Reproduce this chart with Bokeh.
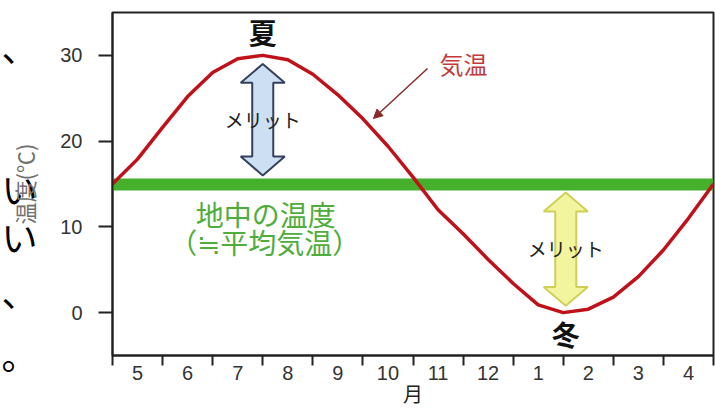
from bokeh.plotting import figure
from bokeh.models import Range1d, FixedTicker, Label, Arrow, NormalHead, LinearAxis
from bokeh.embed import file_html
from bokeh.resources import INLINE

# ---------------- data ----------------
months = ["5", "6", "7", "8", "9", "10", "11", "12", "1", "2", "3", "4"]
month_pos = [0, 1, 2, 3, 4, 5, 6, 7, 8, 9, 10, 11]
boundary_pos = [-0.5, 0.5, 1.5, 2.5, 3.5, 4.5, 5.5, 6.5, 7.5, 8.5, 9.5, 10.5, 11.5]

# air temperature read at half-month steps (x: month index, boundaries at k-0.5)
curve_x = [-0.5, 0.0, 0.5, 1.0, 1.5, 2.0, 2.5, 3.0, 3.5, 4.0, 4.5, 5.0, 5.5,
           6.0, 6.5, 7.0, 7.5, 8.0, 8.5, 9.0, 9.5, 10.0, 10.5, 11.0, 11.5]
air_temp = [15.0, 17.9, 21.6, 25.2, 28.0, 29.6, 30.0, 29.5, 27.8, 25.4, 22.6, 19.4, 15.8,
            12.0, 9.2, 6.2, 3.4, 0.9, 0.0, 0.4, 1.8, 4.2, 7.3, 11.0, 15.0]
ground_temp = 15.0
temp_ticks = [0, 10, 20, 30]

# fragments of neighbouring page text visible at the left edge
side_text = ["、", "い", "い", "、\n。"]
side_pos = [31.15, 14.48, 8.99, -1.15]

summer_x = 2.5      # month index of summer arrow
winter_x = 8.55     # month index of winter arrow
summer_peak = max(air_temp)
winter_low = min(air_temp)

JP = "Noto Sans CJK JP"
LAT_JP = "'Liberation Sans', 'Noto Sans CJK JP'"

p = figure(width=715, height=408, x_range=Range1d(-0.5, 11.5), y_range=Range1d(-5, 35),
           output_backend="svg", toolbar_location=None,
           min_border_left=112, min_border_right=2, min_border_top=12, min_border_bottom=53)
p.xgrid.visible = False
p.ygrid.visible = False
p.outline_line_color = "#222222"
p.outline_line_width = 2
p.background_fill_color = "white"
p.border_fill_color = "white"

xa = p.xaxis[0]
xa.ticker = FixedTicker(ticks=month_pos, minor_ticks=boundary_pos)
xa.major_label_overrides = {i: m for i, m in zip(month_pos, months)}
xa.major_tick_in = 0
xa.major_tick_out = 0
xa.minor_tick_in = 0
xa.minor_tick_out = 10
xa.minor_tick_line_color = "#222222"
xa.minor_tick_line_width = 2
xa.axis_line_color = "#222222"
xa.axis_line_width = 2
xa.major_label_text_font = "Liberation Sans"
xa.major_label_text_font_size = "20px"
xa.major_label_text_color = "#333333"
xa.major_label_standoff = 0
xa.axis_label = "月"
xa.axis_label_text_font = LAT_JP
xa.axis_label_text_font_size = "20px"
xa.axis_label_text_font_style = "normal"
xa.axis_label_text_color = "#222222"
xa.axis_label_standoff = 1

ya = p.yaxis[0]
ya.ticker = FixedTicker(ticks=temp_ticks, minor_ticks=[])
ya.major_tick_in = 0
ya.major_tick_out = 14
ya.major_tick_line_width = 2
ya.major_tick_line_color = "#222222"
ya.minor_tick_out = 0
ya.minor_tick_in = 0
ya.axis_line_color = "#222222"
ya.axis_line_width = 2
ya.major_label_text_font = "Liberation Sans"
ya.major_label_text_font_size = "20px"
ya.major_label_text_color = "#333333"
ya.major_label_standoff = 16

# outer left axis: carries the axis title and the cut-off page text fragments
side_axis = LinearAxis(ticker=FixedTicker(ticks=side_pos, minor_ticks=[]))
side_axis.major_label_overrides = {v: t for v, t in zip(side_pos, side_text)}
side_axis.axis_line_color = None
side_axis.major_tick_line_color = None
side_axis.minor_tick_line_color = None
side_axis.major_tick_in = 0
side_axis.major_tick_out = 0
side_axis.minor_tick_in = 0
side_axis.minor_tick_out = 0
side_axis.major_label_text_font = JP
side_axis.major_label_text_font_size = "36px"
side_axis.major_label_text_color = "#000000"
side_axis.major_label_standoff = 20
side_axis.axis_label = "温度(℃)"
side_axis.axis_label_text_font = JP
side_axis.axis_label_text_font_size = "22px"
side_axis.axis_label_text_font_style = "normal"
side_axis.axis_label_text_color = "#707070"
side_axis.axis_label_standoff = -42
p.add_layout(side_axis, "left")

# ground temperature band
p.hspan(y=[ground_temp], line_color="#45b02c", line_width=12)

# air temperature curve
p.line(curve_x, air_temp, line_color="#c0111b", line_width=3.5, line_join="round")


def double_arrow(cx, y_top, y_bot, shaft_hw=0.21, head_hw=0.44, head_len=2.2):
    xs = [cx, cx + head_hw, cx + shaft_hw, cx + shaft_hw, cx + head_hw, cx,
          cx - head_hw, cx - shaft_hw, cx - shaft_hw, cx - head_hw]
    ys = [y_top, y_top - head_len, y_top - head_len, y_bot + head_len, y_bot + head_len, y_bot,
          y_bot + head_len, y_bot + head_len, y_top - head_len, y_top - head_len]
    return xs, ys


bx, by = double_arrow(summer_x, summer_peak - 1.0, ground_temp + 1.0)
p.patch(bx, by, fill_color="#cde0f3", line_color="#34405c", line_width=2)
wx, wy = double_arrow(winter_x, ground_temp - 1.0, winter_low + 0.8)
p.patch(wx, wy, fill_color="#f3f59e", line_color="#cfcf55", line_width=2)


def label(x, y, text, size, color="#111111", style="normal", font=JP):
    p.add_layout(Label(x=x, y=y, text=text, text_font=font, text_font_size=size,
                       text_color=color, text_font_style=style,
                       text_align="center", text_baseline="middle"))


label(summer_x, (summer_peak + ground_temp) / 2, "メリット", "19px", "#222222")
label(winter_x, (ground_temp + winter_low) / 2, "メリット", "19px", "#222222")
label(summer_x, summer_peak + 2.7, "夏", "28px", "#111111", "bold")
label(winter_x, winter_low - 2.5, "冬", "28px", "#111111", "bold")
label(6.51, 29.05, "気温", "24px", "#c23a3a")
label(2.56, 11.45, "地中の温度", "28px", "#4fad3b")
label(2.54, 8.2, "（≒平均気温）", "28px", "#4fad3b")

p.add_layout(Arrow(end=NormalHead(size=9, fill_color="#8a2a2a", line_color="#8a2a2a"),
                   x_start=5.79, y_start=28.47, x_end=4.71, y_end=22.64,
                   line_color="#8a2a2a", line_width=1.5))

open("out.html", "w").write(file_html(p, INLINE))
